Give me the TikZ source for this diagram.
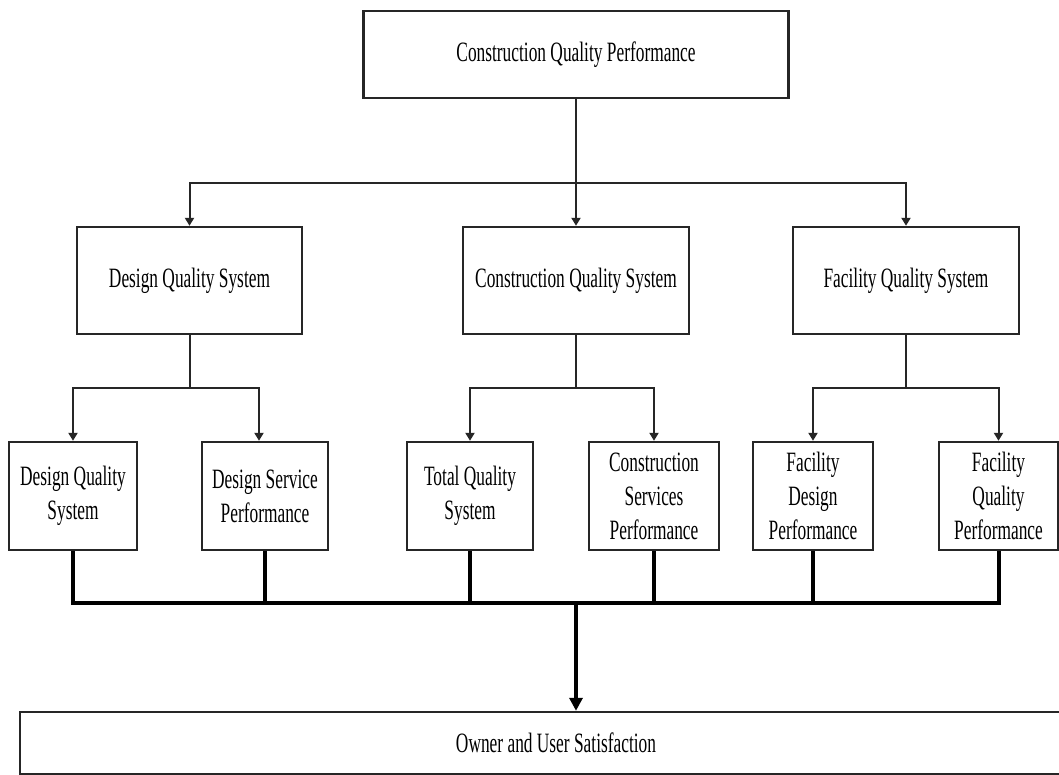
\documentclass[tikz,border=0pt]{standalone}
\usepackage{fontspec}
\setmainfont{Liberation Serif}[FakeStretch=0.62]
\usetikzlibrary{arrows.meta}

\tikzset{
  box/.style={draw=black!85, line width=2.4pt, fill=white, align=center,
    inner sep=0pt, font=\fontsize{28}{34}\selectfont},
  conn/.style={draw=black!85, line width=2pt},
  bar/.style={draw=black, line width=4pt},
  arr/.style={-{Triangle[length=8pt,width=9pt]}},
  bigarr/.style={-{Triangle[length=13pt,width=13pt]}},
}

\begin{document}
\begin{tikzpicture}[x=1pt,y=-1pt]
  \useasboundingbox[fill=white] (0,0) rectangle (1059,775);

  % top level
  \node[box, minimum width=425, minimum height=87] (top) at (576,54.5)
    {Construction Quality Performance};

  % second level
  \node[box, minimum width=225, minimum height=107] (A) at (189.5,280.5)
    {Design Quality System};
  \node[box, minimum width=226, minimum height=107] (B) at (576,280.5)
    {Construction Quality System};
  \node[box, minimum width=226, minimum height=107] (C) at (906,280.5)
    {Facility Quality System};

  % third level
  \node[box, minimum width=128, minimum height=108] (d1) at (73,496)
    {Design Quality\\System};
  \node[box, minimum width=126, minimum height=108] (d2) at (265,496)
    {Design Service\\Performance};
  \node[box, minimum width=126, minimum height=108] (t1) at (470,496)
    {Total Quality\\System};
  \node[box, minimum width=130, minimum height=108] (t2) at (654,496)
    {Construction\\Services\\Performance};
  \node[box, minimum width=120, minimum height=108] (f1) at (813,496)
    {Facility\\Design\\Performance};
  \node[box, minimum width=119, minimum height=108] (f2) at (998.5,496)
    {Facility\\Quality\\Performance};

  % outcome
  \node[box, minimum width=1072, minimum height=62] (out) at (556,743)
    {Owner and User Satisfaction};

  % junction points
  \coordinate (j1) at (576,183);
  \coordinate (ja) at (189.5,388);
  \coordinate (jb) at (576,388);
  \coordinate (jc) at (906,388);
  \coordinate (bus) at (576,603);

  % top to second level
  \draw[conn] (top.south) -- (j1);
  \draw[conn,arr] (j1) -| (A.north);
  \draw[conn,arr] (j1) -- (B.north);
  \draw[conn,arr] (j1) -| (C.north);

  % second to third level
  \draw[conn] (A.south) -- (ja);
  \draw[conn,arr] (ja) -| (d1.north);
  \draw[conn,arr] (ja) -| ([xshift=-6]d2.north);
  \draw[conn] (B.south) -- (jb);
  \draw[conn,arr] (jb) -| (t1.north);
  \draw[conn,arr] (jb) -| (t2.north);
  \draw[conn] (C.south) -- (jc);
  \draw[conn,arr] (jc) -| (f1.north);
  \draw[conn,arr] (jc) -| (f2.north);

  % collecting bar
  \draw[bar] (d1.south) -- (d1.south |- bus) -- (f2.south |- bus) -- (f2.south);
  \foreach \n in {d2,t1,t2,f1}
    \draw[draw=black, line width=3.5pt] (\n.south) -- (\n.south |- bus);
  \draw[draw=black, line width=3.5pt, bigarr] (bus) -- (bus |- out.north);
\end{tikzpicture}
\end{document}
